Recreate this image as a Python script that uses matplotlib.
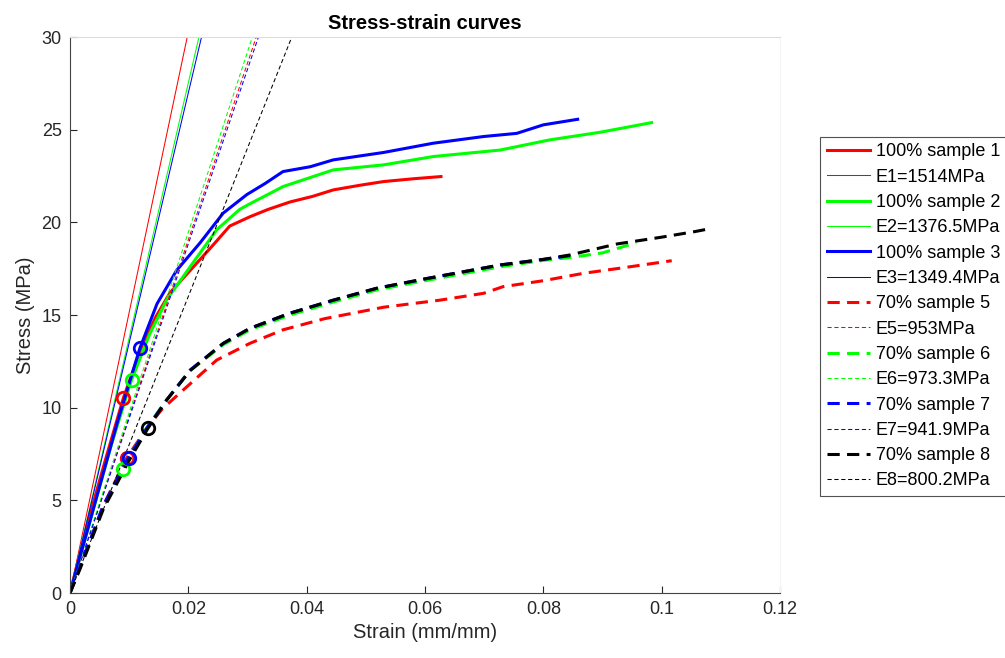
import numpy as np
import matplotlib.pyplot as plt

plt.rcParams['font.family'] = ['Liberation Sans', 'DejaVu Sans']

# sample 1, 100% (red solid)
s1_strain = [0, 0.003, 0.006, 0.009, 0.012, 0.0145, 0.0169, 0.0203, 0.0237, 0.027,
             0.0304, 0.0335, 0.0372, 0.041, 0.0445, 0.049, 0.053, 0.058, 0.0627]
s1_stress = [0, 3.8, 7.2, 10.5, 13.2, 14.9, 16.2, 17.4, 18.6, 19.8,
             20.3, 20.7, 21.1, 21.4, 21.75, 22.0, 22.2, 22.35, 22.47]
# sample 2, 100% (green solid)
s2_strain = [0, 0.0035, 0.007, 0.0104, 0.0135, 0.0163, 0.0203, 0.0248, 0.0287, 0.0304,
             0.0344, 0.036, 0.0445, 0.053, 0.0614, 0.0727, 0.0811, 0.0896, 0.0983]
s2_stress = [0, 4.0, 8.0, 11.5, 14.0, 15.8, 17.6, 19.6, 20.7, 21.0,
             21.66, 21.93, 22.83, 23.1, 23.55, 23.9, 24.45, 24.86, 25.38]
# sample 3, 100% (blue solid)
s3_strain = [0, 0.004, 0.008, 0.0118, 0.0147, 0.018, 0.022, 0.0259, 0.0299, 0.033,
             0.036, 0.0406, 0.0445, 0.053, 0.0614, 0.0699, 0.0755, 0.08, 0.0858]
s3_stress = [0, 4.6, 9.2, 13.2, 15.6, 17.4, 18.9, 20.5, 21.5, 22.1,
             22.74, 23.0, 23.37, 23.77, 24.27, 24.63, 24.8, 25.26, 25.56]
# sample 5, 70% (red dashed)
s5_strain = [0, 0.0017, 0.0056, 0.0096, 0.013, 0.0155, 0.0186, 0.0248, 0.0304, 0.036,
             0.043, 0.053, 0.0625, 0.0699, 0.0732, 0.08, 0.0868, 0.0946, 0.1017]
s5_stress = [0, 1.4, 4.7, 7.3, 8.9, 9.9, 10.8, 12.57, 13.47, 14.2,
             14.8, 15.42, 15.8, 16.17, 16.53, 16.85, 17.25, 17.6, 17.93]
# sample 6, 70% (green dashed)
s6_strain = [0, 0.0017, 0.0056, 0.0089, 0.0125, 0.0163, 0.0203, 0.0259, 0.0304, 0.0372,
             0.0445, 0.0518, 0.06, 0.0727, 0.08, 0.0845, 0.09, 0.0957]
s6_stress = [0, 1.4, 4.6, 6.7, 8.7, 10.4, 12.0, 13.4, 14.2, 15.0,
             15.7, 16.35, 16.85, 17.6, 17.95, 18.1, 18.35, 18.9]
# sample 7, 70% (blue dashed)
s7_strain = [0, 0.0017, 0.0056, 0.0099, 0.013, 0.0163, 0.0203, 0.0259, 0.0304, 0.0372,
             0.0445, 0.0518, 0.06, 0.0727, 0.08, 0.0845]
s7_stress = [0, 1.4, 4.7, 7.3, 8.9, 10.4, 12.03, 13.47, 14.28, 15.1,
             15.8, 16.44, 16.95, 17.7, 18.0, 18.2]
# sample 8, 70% (black dashed)
s8_strain = [0, 0.0017, 0.0056, 0.0099, 0.0132, 0.0163, 0.0203, 0.0259, 0.0304, 0.0372,
             0.0445, 0.0518, 0.06, 0.0727, 0.08, 0.0845, 0.0924, 0.1, 0.1056, 0.1085]
s8_stress = [0, 1.3, 4.5, 7.1, 8.9, 10.4, 12.0, 13.47, 14.28, 15.1,
             15.8, 16.44, 16.95, 17.7, 18.0, 18.24, 18.83, 19.2, 19.5, 19.68]

# yield points (circles)
yield_strain = [0.009, 0.0104, 0.0118, 0.0096, 0.0089, 0.0099, 0.0132]
yield_stress = [10.5, 11.5, 13.2, 7.3, 6.7, 7.3, 8.9]

moduli = [1514, 1376.5, 1349.4, 953, 973.3, 941.9, 800.2]
labels = ['100% sample 1', '100% sample 2', '100% sample 3',
          '70% sample 5', '70% sample 6', '70% sample 7', '70% sample 8']
e_labels = ['E1=1514MPa', 'E2=1376.5MPa', 'E3=1349.4MPa', 'E5=953MPa',
            'E6=973.3MPa', 'E7=941.9MPa', 'E8=800.2MPa']

curves = [(s1_strain, s1_stress), (s2_strain, s2_stress), (s3_strain, s3_stress),
          (s5_strain, s5_stress), (s6_strain, s6_stress), (s7_strain, s7_stress),
          (s8_strain, s8_stress)]
colors = ['#ff0000', '#00ff00', '#0000ff', '#ff0000', '#00ff00', '#0000ff', '#000000']

fig = plt.figure(figsize=(10.05, 6.58), dpi=100)
ax = fig.add_axes([70 / 1005, 65 / 658, 710 / 1005, 556 / 658])

e_strain = np.array([0, 0.05])
for i, (x, y) in enumerate(curves):
    if i < 3:
        ax.plot(x, y, color=colors[i], lw=2.2, label=labels[i])
        ax.plot(e_strain, moduli[i] * e_strain, color=colors[i], lw=0.75, label=e_labels[i])
    else:
        ax.plot(x, y, color=colors[i], lw=2.2, dashes=(4, 2.4), label=labels[i])
        ax.plot(e_strain, moduli[i] * e_strain, color=colors[i], lw=0.75,
                dashes=(4, 2.6), label=e_labels[i])

for i in range(len(yield_strain)):
    ax.plot(yield_strain[i], yield_stress[i], 'o', mfc='none', mec=colors[i],
            ms=9, mew=2)

ax.set_xlim(0, 0.12)
ax.set_ylim(0, 30)
ax.set_xticks([0, 0.02, 0.04, 0.06, 0.08, 0.1, 0.12])
ax.set_xticklabels(['0', '0.02', '0.04', '0.06', '0.08', '0.1', '0.12'])
ax.set_yticks([0, 5, 10, 15, 20, 25, 30])
ax.tick_params(direction='in', length=5, width=0.8, color='#262626',
               labelsize=13, labelcolor='#262626', pad=6)
for s in ['left', 'bottom']:
    ax.spines[s].set_color('#444444')
ax.spines['top'].set_color('#dddddd')
ax.spines['right'].set_color('#f4f4f4')
ax.tick_params(top=False, right=False)

ax.set_xlabel('Strain (mm/mm)', fontsize=14.5, color='#262626', labelpad=3)
ax.set_ylabel('Stress (MPa)', fontsize=14.5, color='#262626', labelpad=5)
ax.set_title('Stress-strain curves', fontsize=14.5, fontweight='bold', pad=6)

leg = ax.legend(loc='upper left', bbox_to_anchor=(820 / 1005, 1 - 137 / 658),
                bbox_transform=fig.transFigure, fontsize=13, frameon=True,
                fancybox=False, edgecolor='#262626', handlelength=2.4,
                handletextpad=0.33, labelspacing=0.46, borderaxespad=0,
                borderpad=0.36)
leg.get_frame().set_linewidth(0.8)

fig.savefig('out.png', dpi=100)
